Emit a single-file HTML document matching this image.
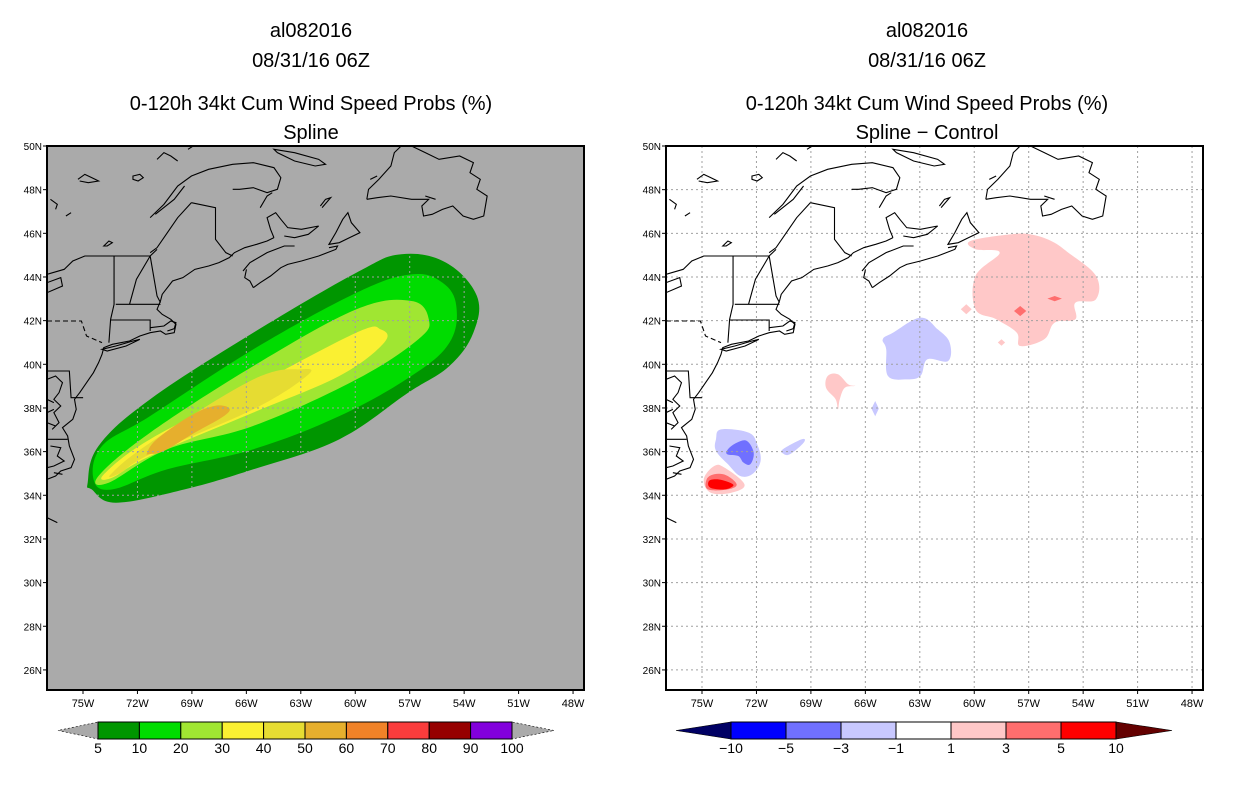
<!DOCTYPE html>
<html><head><meta charset="utf-8">
<style>
html,body{margin:0;padding:0;background:#fff;}
body{width:1236px;height:800px;overflow:hidden;font-family:"Liberation Sans",sans-serif;}
svg text{font-family:"Liberation Sans",sans-serif;}
</style></head>
<body>
<svg id="fig" width="1236" height="800" viewBox="0 0 1236 800" xmlns="http://www.w3.org/2000/svg">
<defs>
<g id="coast" fill="none" stroke="#000" stroke-width="1.1" vector-effect="non-scaling-stroke">
<path vector-effect="non-scaling-stroke" d="M0,1000 L25,990 L40,975 L70,965 L80,940 L65,900 L60,870 L45,845 L75,820 L85,790 L80,760 L95,740 L115,710 L135,680 L150,650 L160,625 L165,605 L190,595 L240,585 L270,570 L300,560 L330,555 L345,565 L370,560 L375,535 L360,520 L335,505 L320,490 L330,465 L335,445 L365,405 L395,395 L430,370 L470,360 L500,350 L530,335 L545,320 L575,305 L610,295 L640,285 L660,275"/>
<path vector-effect="non-scaling-stroke" d="M0,700 L25,690 L45,710 L35,740 L20,760 L40,780 L20,800 L35,830 L15,850 M0,760 L20,770 M0,800 L20,790 M0,830 L25,840 M10,900 L40,905 L30,930 L50,945 L20,960 L0,965 M20,980 L45,985"/>
<path vector-effect="non-scaling-stroke" d="M160,610 L200,600 L250,585 L270,580 L230,600 L175,615 Z"/>
<path vector-effect="non-scaling-stroke" d="M300,545 L340,540 L360,525 L375,530 L370,548 L350,555"/>
<path vector-effect="non-scaling-stroke" d="M570,375 L590,350 L640,320 L690,300 L720,300 M600,425 L590,405 L575,395 L580,370 M600,425 L620,410 L650,390 L680,365 L700,355 L740,345 L790,330 L840,310 L845,300 L820,305"/>
<path vector-effect="non-scaling-stroke" d="M660,275 L650,250 L640,215 L665,200 L680,220 L700,245 L740,250 L790,240 L760,265 L720,275 L690,270 M820,295 L840,260 L860,220 L875,200 L885,230 L910,260 L880,275 L850,290 Z"/>
<path vector-effect="non-scaling-stroke" d="M300,215 L340,175 L380,120 L420,90 L470,70 L540,55 L600,50 L660,65 L680,95 L670,130 L640,140 L600,125 L560,130 L540,130 M315,205 L370,160 L400,120 M420,170 L490,185 L490,280 L520,320 L540,330 M420,170 L380,215 L350,260 L320,305 L300,320 M620,185 L640,150 L655,140"/>
<path vector-effect="non-scaling-stroke" d="M0,385 L50,370 L75,345 L110,330 L300,330 L320,310 M195,330 L195,475 L185,520 L180,590 M200,475 L330,475 M240,475 L260,400 L300,330 M300,330 L320,450 L330,470 M185,522 L300,522 L300,555 M0,675 L65,675 L70,755 L105,755 M0,880 L60,880 M0,410 L40,395 L45,420 L0,440"/>
<path vector-effect="non-scaling-stroke" stroke-dasharray="5,3" d="M0,525 L100,525 L115,570 L160,590"/>
<path vector-effect="non-scaling-stroke" d="M930,160 L935,130 L965,100 L1000,60 L1010,20 L1030,0 M1060,0 L1100,20 L1140,40 L1200,30 L1240,50 L1230,80 L1260,100 L1250,130 L1280,150 L1270,210 L1240,220 L1210,210 L1180,180 L1150,190 L1120,205 L1095,210 L1090,180 L1110,160 L1060,160 L1000,150 L960,155 L930,160"/>
<path vector-effect="non-scaling-stroke" d="M660,10 L720,20 L790,40 L810,55 L780,60 L720,45 L670,20 Z M795,180 L810,160 L825,155 L800,185 M250,90 L270,85 L280,95 L265,105 L250,100 Z M165,300 L180,285 L190,290 L175,300 Z M90,100 L110,85 L130,95 L150,105 L120,110 L95,105 M320,40 L340,20 L360,30 L380,45 M10,160 L30,175 L25,190 M55,210 L70,200 M410,10 L425,0 M940,100 L960,90 M1100,150 L1130,160 M0,1115 L30,1130"/>
</g>
</defs>
<g id="root"></g>
</svg>
<script>
// ---- Data ----
var probLevels = [5,10,20,30,40,50,60,70,80,90,100];
var probColors = ["#009600","#00dc00","#a0e632","#faf032","#e6dc32","#e6af2d","#f08228","#fa3c3c","#960000","#8200dc"];
var diffLevels = [-10,-5,-3,-1,1,3,5,10];
var diffColors = ["#0000ff","#7070ff","#c8c8ff","#ffffff","#ffc8c8","#ff6e6e","#ff0000"];
var lonTicks = [75,72,69,66,63,60,57,54,51,48];
var latTicks = [50,48,46,44,42,40,38,36,34,32,30,28,26];
var prob5 = [[74.74,34.58],[74.14,36.26],[71.30,38.40],[65.61,41.45],[59.93,44.20],[57.47,45.04],[55.00,44.66],[53.30,43.13],[53.49,41.45],[54.81,39.92],[57.09,38.70],[60.87,36.57],[65.61,35.19],[69.40,34.27],[73.19,33.66],[74.52,34.27]];
var prob10 = [[74.42,34.73],[73.95,36.26],[71.30,37.63],[65.61,40.69],[59.93,43.28],[56.90,44.12],[55.19,43.74],[54.43,42.67],[54.81,40.99],[56.90,39.47],[60.87,37.63],[65.61,36.11],[70.35,35.19],[73.38,34.27]];
var prob20 = [[74.14,34.89],[71.30,36.87],[65.61,39.92],[59.93,42.52],[56.90,42.90],[55.95,42.06],[56.52,41.15],[59.93,39.31],[65.61,37.18],[70.35,36.11],[73.57,34.58]];
var prob30 = [[73.85,34.96],[71.30,36.57],[65.61,39.01],[59.93,41.45],[58.60,41.60],[58.41,40.99],[60.87,39.47],[65.61,37.79],[71.30,35.80],[73.38,34.81]];
var prob40 = [[73.47,34.96],[71.30,36.41],[65.61,39.31],[62.96,39.77],[62.67,39.47],[65.61,37.94],[71.30,35.88],[72.91,35.04]];
var prob50 = [[71.47,35.94],[70.92,36.58],[69.10,37.63],[67.78,38.09],[66.96,38.00],[67.23,37.63],[68.88,36.85],[70.54,36.03],[71.31,35.89]];
var probContours = [prob5,prob10,prob20,prob30,prob40,prob50];

var diffPinkBig = [[60.21,45.65],[58.03,45.95],[56.90,45.95],[55.76,45.65],[54.81,45.11],[53.29,44.05],[53.29,42.98],[54.43,42.82],[54.43,42.06],[55.57,41.91],[56.14,41.15],[57.47,40.84],[57.66,41.45],[58.79,42.06],[59.93,42.52],[59.93,44.05],[58.60,45.11],[59.93,45.27]];
var diffRed1 = [[57.81,42.44],[57.47,42.67],[57.13,42.44],[57.47,42.21]];
var diffRed2 = [[55.97,43.01],[55.57,43.13],[55.17,43.01],[55.57,42.89]];
var diffPinkDot1 = [[60.74,42.52],[60.44,42.75],[60.14,42.52],[60.44,42.29]];
var diffPinkDot2 = [[58.70,41.0],[58.50,41.15],[58.30,41.0],[58.50,40.85]];
var diffBlueBig = [[65.04,41.15],[64.47,41.45],[62.96,42.14],[62.01,41.60],[61.35,40.99],[61.44,40.15],[62.58,40.23],[62.96,39.47],[63.72,39.31],[64.76,39.47],[64.85,40.69]];
var diffPinkMid = [[68.07,39.47],[67.51,39.54],[66.94,39.08],[66.56,39.01],[67.13,38.93],[67.41,38.40],[67.51,37.94],[67.64,38.40],[68.17,38.93]];
var diffBlueDot = [[65.66,37.97],[65.46,38.32],[65.26,37.97],[65.46,37.62]];
var diffBlueSmall = [[70.54,36.11],[69.50,36.57],[69.40,36.41],[70.16,35.88],[70.54,35.92]];
var diffBlueNC = [[74.23,36.57],[73.95,37.02],[72.43,36.87],[71.96,36.34],[71.77,35.57],[72.24,34.96],[72.91,34.89],[73.57,35.42],[74.23,36.04]];
var diffBlueNC2 = [[73.57,36.11],[73.09,36.41],[72.53,36.49],[72.15,35.95],[72.34,35.42],[72.72,35.50],[73.00,35.80],[73.61,35.88]];
var diffPinkNC = [[74.90,34.73],[74.33,35.34],[73.76,35.27],[72.66,34.50],[73.38,34.12],[74.52,34.12]];
var diffLRedNC = [[74.74,34.73],[74.33,34.96],[73.67,34.92],[73.09,34.50],[73.57,34.27],[74.67,34.27]];
var diffRedNC = [[74.61,34.66],[74.14,34.73],[73.47,34.58],[73.28,34.43],[73.76,34.27],[74.55,34.35]];
var diffShapes = [[diffPinkBig,4],[diffRed1,5],[diffRed2,5],[diffPinkDot1,4],[diffPinkDot2,4],[diffBlueBig,2],[diffPinkMid,4],[diffBlueDot,2],[diffBlueSmall,2],[diffBlueNC,2],[diffBlueNC2,1],[diffPinkNC,4],[diffLRedNC,5],[diffRedNC,6]];

// ---- Geometry ----
var NS="http://www.w3.org/2000/svg";
var TOP=146, BOT=690, W=537;
function xScale(left,lon){return left+36+(75-lon)*18.15;}
function yScale(lat){return TOP+(50-lat)*21.83;}
function mk(tag,attrs,parent){var e=document.createElementNS(NS,tag);for(var k in attrs)e.setAttribute(k,attrs[k]);parent.appendChild(e);return e;}
function polyStr(left,pts){return pts.map(function(p){return xScale(left,p[0]).toFixed(1)+","+yScale(p[1]).toFixed(1);}).join(" ");}
function smoothPath(left,pts){
  var P=pts.map(function(p){return [xScale(left,p[0]),yScale(p[1])];}),n=P.length,t=0.18;
  if(n<5){return "M"+P.map(function(p){return p[0].toFixed(1)+","+p[1].toFixed(1);}).join(" L")+" Z";}
  var d="M"+P[0][0].toFixed(1)+","+P[0][1].toFixed(1);
  for(var i=0;i<n;i++){
    var p0=P[(i-1+n)%n],p1=P[i],p2=P[(i+1)%n],p3=P[(i+2)%n];
    var c1=[p1[0]+(p2[0]-p0[0])*t,p1[1]+(p2[1]-p0[1])*t];
    var c2=[p2[0]-(p3[0]-p1[0])*t,p2[1]-(p3[1]-p1[1])*t];
    d+=" C"+c1[0].toFixed(1)+","+c1[1].toFixed(1)+" "+c2[0].toFixed(1)+","+c2[1].toFixed(1)+" "+p2[0].toFixed(1)+","+p2[1].toFixed(1);
  }
  return d+" Z";
}
var root=document.getElementById('root');

function titles(cx,sub,name){
  var g=mk('g',{},root);
  
  
  var lines=[["al082016",30],["08/31/16 06Z",60],["0-120h 34kt Cum Wind Speed Probs (%)",103],[sub,132]];
  lines.forEach(function(l){var t=mk('text',{x:cx,y:l[1]+7,'text-anchor':'middle','font-size':'20',fill:'#000'},g);t.textContent=l[0];});
}

function panel(left,bg,name,drawFill,gridClip){
  var g=mk('g',{},root);
  
  
  var clipId=name+'-clip';
  var cp=mk('clipPath',{id:clipId},g);
  mk('rect',{x:left,y:TOP,width:W,height:BOT-TOP},cp);
  var bgR=mk('rect',{x:left,y:TOP,width:W,height:BOT-TOP,fill:bg},g);
  
  
  var inner=mk('g',{'clip-path':'url(#'+clipId+')'},g);
  drawFill(inner,left);
  var gg=mk('g',{stroke:'#a0a0a0','stroke-width':'1','stroke-dasharray':'2,3'},inner);
  if(gridClip){var gc=mk('clipPath',{id:name+'-gclip'},g);mk('path',{d:smoothPath(left,gridClip)},gc);gg.setAttribute('clip-path','url(#'+name+'-gclip)');}
  
  
  lonTicks.forEach(function(l){var x=xScale(left,l);mk('line',{x1:x,x2:x,y1:TOP,y2:BOT},gg);});
  latTicks.forEach(function(l){var y=yScale(l);mk('line',{x1:left,x2:left+W,y1:y,y2:y},gg);});
  var u=mk('use',{href:'#coast',transform:'translate('+left+','+TOP+') scale('+(1/2.908)+','+(1/3)+')'},inner);
  
  
  var fr=mk('rect',{x:left,y:TOP,width:W,height:BOT-TOP,fill:'none',stroke:'#000','stroke-width':'2'},g);
  
  
  var ax=mk('g',{},g);
  
  
  lonTicks.forEach(function(l){var x=xScale(left,l);mk('line',{x1:x,x2:x,y1:BOT,y2:BOT+4,stroke:'#000'},ax);var t=mk('text',{x:x,y:707,'text-anchor':'middle','font-size':'11',fill:'#000'},ax);t.textContent=l+'W';});
  latTicks.forEach(function(l){var y=yScale(l);mk('line',{x1:left-4,x2:left,y1:y,y2:y,stroke:'#000'},ax);var t=mk('text',{x:left-5,y:y+4,'text-anchor':'end','font-size':'10',fill:'#000'},ax);t.textContent=l+'N';});
}

function colorbar(x0,x1,tipL,tipR,levels,colors,leftTip,rightTip,name){
  var g=mk('g',{},root);
  
  
  var y0=722,y1=739,ym=730.5,n=colors.length,w=(x1-x0)/n;
  mk('polygon',{points:x0+','+y0+' '+x0+','+y1+' '+tipL+','+ym,fill:leftTip,stroke:'#000','stroke-width':'0.6','stroke-dasharray':leftTip=='#aaaaaa'?'2,2':''},g);
  mk('polygon',{points:x1+','+y0+' '+x1+','+y1+' '+tipR+','+ym,fill:rightTip,stroke:'#000','stroke-width':'0.6','stroke-dasharray':rightTip=='#aaaaaa'?'2,2':''},g);
  colors.forEach(function(c,i){var r=mk('rect',{x:x0+i*w,y:y0,width:w,height:y1-y0,fill:c,stroke:'#000','stroke-width':'1'},g);
    
    });
  levels.forEach(function(v,i){var t=mk('text',{x:x0+i*w,y:753,'text-anchor':'middle','font-size':'14',fill:'#000'},g);t.textContent=(v<0?'\u2212'+(-v):v);});
}

titles(311,"Spline","left-title");
titles(927,"Spline \u2212 Control","right-title");

panel(47,'#aaaaaa','left-map',function(g,left){
  probContours.forEach(function(pts,i){var p=mk('path',{d:smoothPath(left,pts),fill:probColors[i]},g);
    
    });
},prob5);

panel(666,'#ffffff','right-map',function(g,left){
  diffShapes.forEach(function(s){var p=mk('path',{d:smoothPath(left,s[0]),fill:diffColors[s[1]]},g);
    
    });
},null);

colorbar(98,512,58,554,probLevels,probColors,'#aaaaaa','#aaaaaa','prob-colorbar');
colorbar(731,1116,676,1172,diffLevels,diffColors,'#000064','#640000','diff-colorbar');
</script>
</body></html>
